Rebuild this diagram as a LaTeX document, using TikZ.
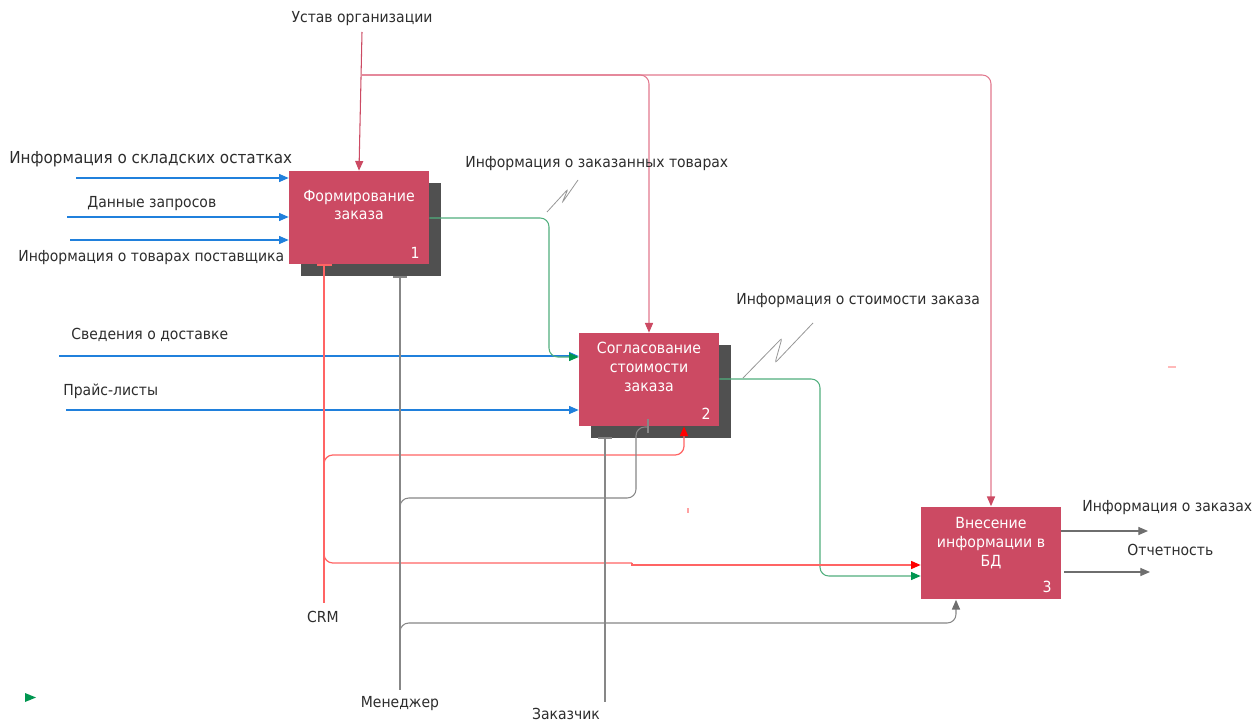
\documentclass[tikz,border=0pt]{standalone}
\usepackage{fontspec}
\setmainfont{DejaVu Sans}[FakeStretch=0.92]
\usetikzlibrary{arrows.meta,calc}

\definecolor{procfill}{RGB}{204,74,99}
\definecolor{procshade}{RGB}{80,80,80}
\definecolor{txt}{RGB}{45,45,45}
\definecolor{flowblue}{RGB}{32,128,220}
\definecolor{flowgreen}{RGB}{80,175,125}
\definecolor{tipgreen}{RGB}{0,150,80}
\definecolor{ctrlpink}{RGB}{204,74,99}
\definecolor{ctrllight}{RGB}{226,120,142}
\definecolor{crmred}{RGB}{255,100,100}
\definecolor{tipred}{RGB}{255,0,0}
\definecolor{mechgray}{RGB}{135,135,135}
\definecolor{outgray}{RGB}{110,110,110}
\definecolor{squig}{RGB}{150,150,150}

\tikzset{
  proc/.style={fill=procfill, minimum width=2.8cm, minimum height=1.86cm, inner sep=0pt},
  dropbox/.style={fill=procshade, minimum width=2.8cm, minimum height=1.86cm, inner sep=0pt},
  boxtext/.style={text=white, align=center, inner sep=0pt, font=\fontsize{8.75}{10.6}\selectfont},
  lbl/.style={text=txt, inner sep=0pt, font=\fontsize{8.65}{10}\selectfont},
  biglbl/.style={text=txt, inner sep=0pt, font=\fontsize{9.4}{11}\selectfont},
  tip/.style={-{Triangle[length=5.5pt,width=4.6pt]}},
  inflow/.style={draw=flowblue, line width=0.6pt, tip, flowblue},
  greenflow/.style={draw=flowgreen, line width=0.6pt, rounded corners=5pt, -{Triangle[length=5.5pt,width=4.6pt,fill=tipgreen,color=tipgreen]}},
  ctrlflow/.style={draw=ctrlpink, line width=0.6pt, tip, ctrlpink},
  ctrlbranch/.style={draw=ctrllight, line width=0.6pt, rounded corners=5pt, -{Triangle[length=5.5pt,width=4.6pt,fill=ctrlpink,color=ctrlpink]}},
  crmflow/.style={draw=crmred, line width=0.7pt, rounded corners=5pt},
  crmarrow/.style={crmflow, -{Triangle[length=5.5pt,width=4.6pt,fill=tipred,color=tipred]}},
  mechflow/.style={draw=mechgray, line width=0.6pt, rounded corners=5pt},
  mecharrow/.style={mechflow, -{Triangle[length=5.5pt,width=4.6pt,fill=outgray,color=outgray]}},
  outflow/.style={draw=outgray, line width=0.6pt, tip, outgray},
  squiggle/.style={draw=squig, line width=0.45pt, rounded corners=1.5pt}
}

\begin{document}
\begin{tikzpicture}[x=0.02cm, y=-0.02cm]
\useasboundingbox (0,0) rectangle (1255,723);
\fill[white] (0,0) rectangle (1255,723);

% activity blocks with their drop shadows
\node[dropbox] (b1s) at (371,229.5) {};
\node[proc] (b1) at (359,217.5) {};
\node[dropbox] (b2s) at (661,391.5) {};
\node[proc] (b2) at (649,379.5) {};
\node[proc] (b3) at (991,553) {};

\node[boxtext] (t1) at (359,205) {Формирование\\заказа};
\node[boxtext] (t2) at (649,367) {Согласование\\стоимости\\заказа};
\node[boxtext] (t3) at (991,543) {Внесение\\информации в\\БД};
\node[boxtext] (n1) at (415,253) {1};
\node[boxtext] (n2) at (706,414) {2};
\node[boxtext] (n3) at (1047,587) {3};

% inputs
\coordinate (i1) at (76,178);
\coordinate (i2) at (67,217);
\coordinate (i3) at (70,240);
\coordinate (i4) at (59,356);
\coordinate (i5) at (66,410);
\draw[inflow] (i1) -- (i1 -| b1.west);
\draw[inflow] (i2) -- (i2 -| b1.west);
\draw[inflow] (i3) -- (i3 -| b1.west);
\draw[inflow] (i4) -- (i4 -| b2.west);
\draw[inflow] (i5) -- (i5 -| b2.west);

\node[biglbl, anchor=west] (l1) at (9,159) {Информация о складских остатках};
\node[lbl, anchor=west] (l2) at (87,204) {Данные запросов};
\node[lbl, anchor=west] (l3) at (18,258) {Информация о товарах поставщика};
\node[lbl, anchor=west] (l4) at (71,335) {Сведения о доставке};
\node[lbl, anchor=west] (l5) at (63,391) {Прайс-листы};

% control
\node[lbl] (l6) at (362,19) {Устав организации};
\coordinate (c0) at (362,32);
\coordinate (c1) at (362,75);
\draw[ctrlflow] (c0) -- (b1.north);
\draw[ctrlbranch] (c1) -| (b2.north);
\draw[ctrlbranch] (c1) -| (b3.north);

% block outputs feeding the next block
\coordinate (gA) at (549,218);
\coordinate (gB) at (549,357);
\draw[greenflow] (b1.east |- gA) -- (gA) -- (gB) -- (gB -| b2.west);
\coordinate (gC) at (820,379);
\coordinate (gD) at (820,576);
\draw[greenflow] (b2.east |- gC) -- (gC) -- (gD) -- (gD -| b3.west);

\node[lbl, anchor=west] (l7) at (465,164) {Информация о заказанных товарах};
\node[lbl, anchor=west] (l8) at (736,301) {Информация о стоимости заказа};
\coordinate (s1) at (547,212);
\coordinate (s2) at (578,180);
\draw[squiggle] (s1) -- (568,189) -- (562,203) -- (s2);
\coordinate (s3) at (743,378);
\coordinate (s4) at (813,323);
\draw[squiggle] (s3) -- (782,338) -- (775,363) -- (s4);

% mechanism CRM
\coordinate (crm) at (324,603);
\draw[crmflow] (crm |- b1.south) -- (crm);
\draw[draw=crmred, line width=0.7pt] (317,265) -- (332,265);
\coordinate (rA) at (684,455);
\draw[crmarrow] ($(crm |- rA)+(0,14)$) -- (crm |- rA) -- (rA) -- (rA |- b2.south);
\coordinate (rB) at (632,563);
\coordinate (rC) at (632,565);
\draw[crmflow] ($(crm |- rB)+(0,-12)$) -- (crm |- rB) -- (rB);
\draw[draw=crmred, line width=0.7pt, -{Triangle[length=5.5pt,width=4.6pt,fill=tipred,color=tipred]}]
  (rB) -- (rC) -- (rC -| b3.west);
\node[lbl] (l9) at (323,617) {CRM};

% mechanism Менеджер
\coordinate (mg) at (400,690);
\draw[mechflow] (mg |- b1s.south) -- (mg);
\draw[draw=mechgray, line width=0.6pt] (393,277) -- (407,277);
\coordinate (mA) at (636,498);
\coordinate (mB) at (648,427);
\draw[mechflow] (400,514) -- (mg |- mA) -- (mA) -- (mA |- mB) -- (mB);
\draw[draw=mechgray, line width=0.6pt] (648,419) -- (648,433);
\coordinate (mC) at (956,623);
\draw[mecharrow] (400,636) -- (mg |- mC) -- (mC) -- (mC |- b3.south);
\node[lbl] (l10) at (400,704) {Менеджер};

% mechanism Заказчик
\coordinate (zk) at (605,702);
\draw[mechflow] (zk |- b2s.south) -- (zk);
\draw[draw=mechgray, line width=0.6pt] (598,438) -- (612,438);
\node[lbl] (l11) at (566,714) {Заказчик};

% outputs of the last block
\coordinate (o1) at (1148,531);
\coordinate (o2) at (1150,572);
\draw[outflow] (b3.east |- o1) -- (o1);
\draw[outflow] ($(b3.east |- o2)+(3,0)$) -- (o2);
\node[lbl, anchor=west] (l12) at (1082,508) {Информация о заказах};
\node[lbl, anchor=west] (l13) at (1127,550) {Отчетность};

% stray marks
\draw[draw=crmred!45, line width=1.2pt] (1168,367) -- (1176,367);
\draw[draw=crmred!60, line width=0.7pt] (688,508) -- (688,513);
\fill[tipgreen] (25,693) -- (36,697.5) -- (25,702) -- cycle;
\end{tikzpicture}
\end{document}
